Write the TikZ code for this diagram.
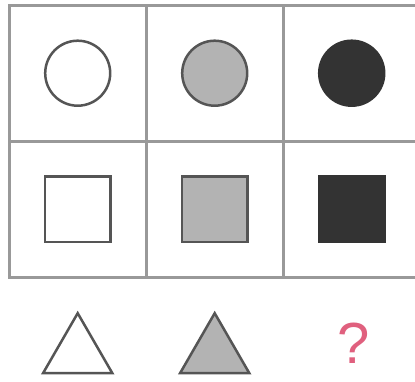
\documentclass[tikz,border=0pt]{standalone}
\usepackage{fontspec}
\setmainfont{Liberation Sans}
\usetikzlibrary{matrix, positioning, shapes.geometric}
\definecolor{gridgray}{HTML}{999999}
\definecolor{edgegray}{HTML}{555555}
\definecolor{midgray}{HTML}{B3B3B3}
\definecolor{shadedark}{HTML}{333333}
\definecolor{askpink}{HTML}{E0607E}
\tikzset{
  cell/.style={draw=gridgray, line width=2.8pt, minimum width=137pt, minimum height=136pt, inner sep=0pt, outer sep=0pt},
  ring/.style={circle, draw=edgegray, line width=2.5pt, minimum size=65pt, inner sep=0pt},
  box/.style={rectangle, draw=edgegray, line width=2.5pt, minimum size=65.5pt, inner sep=0pt},
  wedge/.style={regular polygon, regular polygon sides=3, draw=edgegray, line width=2.5pt, minimum size=80pt, inner sep=0pt, outer sep=0pt},
  ask/.style={text=askpink, font=\fontsize{58}{58}\selectfont, inner sep=0pt}
}

\begin{document}
\begin{tikzpicture}[x=1pt, y=-1pt]
      \useasboundingbox (0,0) rectangle (415,381);
      \fill[white] (0,0) rectangle (415,381);
      \matrix (m) [matrix of nodes, nodes in empty cells, nodes={cell}, column sep=-2.8pt, row sep=-2.8pt, inner sep=0pt, anchor=north west] at (7.6,3.6) {
        & & \\
        & & \\
      } ;
      % first row: circles
      \node[ring] (c1) at (m-1-1) {};
      \node[ring, fill=midgray] (c2) at (m-1-2) {};
      \node[ring, draw=shadedark, fill=shadedark] (c3) at (m-1-3) {};
      % second row: squares
      \node[box] (s1) at (m-2-1) {};
      \node[box, fill=midgray] (s2) at (m-2-2) {};
      \node[box, draw=shadedark, fill=shadedark] (s3) at (m-2-3) {};
      % answer row
      \node[wedge, below=36pt of m-2-1] (t1) {};
      \node[wedge, fill=midgray, below=36pt of m-2-2] (t2) {};
      \node[ask, anchor=base] (q) at (354,363) {?};
    \end{tikzpicture}
\end{document}
